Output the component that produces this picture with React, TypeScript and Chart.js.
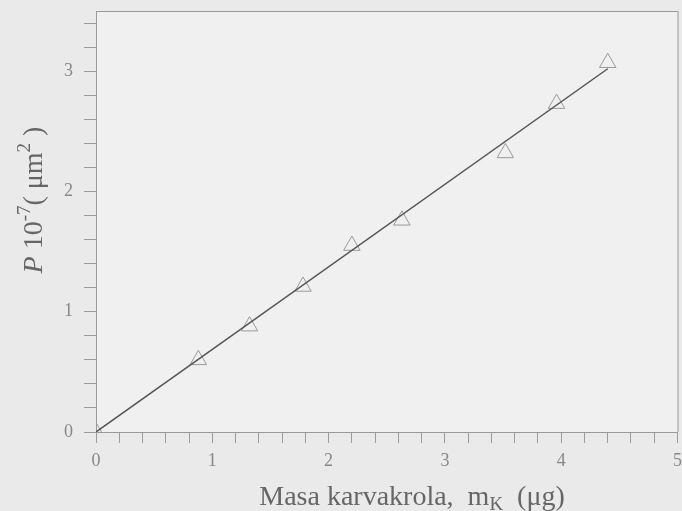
import React, { useEffect, useRef } from "react";
import { Chart, registerables } from "chart.js";

Chart.register(...registerables);

const massValues = [0, 0.88, 1.32, 1.78, 2.2, 2.63, 3.52, 3.96, 4.4];
const areaValues = [0, 0.6, 0.88, 1.21, 1.55, 1.76, 2.32, 2.73, 3.07];
const fitX = [0, 4.4];
const fitY = [0, 3.02];
const xTitleMain = "Masa karvakrola,  m";
const xTitleSub = "K";
const xTitleEnd = "  (μg)";
const yTitleItalic = "P";
const yTitleBase = " 10";
const yTitleSup1 = "-7";
const yTitleMid = "( μm";
const yTitleSup2 = "2";
const yTitleEnd = " )";

const SERIF = "'Liberation Serif', 'DejaVu Serif', serif";

const decorPlugin = {
  id: "decor",
  beforeDraw(chart: any) {
    const { ctx, chartArea, width, height } = chart;
    ctx.save();
    ctx.fillStyle = "#eaeaea";
    ctx.fillRect(0, 0, width, height);
    ctx.fillStyle = "#f0f0f0";
    ctx.fillRect(chartArea.left, chartArea.top, chartArea.right - chartArea.left, chartArea.bottom - chartArea.top);
    ctx.restore();
  },
  afterDraw(chart: any) {
    const { ctx, chartArea } = chart;
    ctx.save();
    ctx.strokeStyle = "#9a9a9a";
    ctx.lineWidth = 1;
    ctx.beginPath();
    ctx.moveTo(chartArea.left, chartArea.top + 0.5);
    ctx.lineTo(chartArea.right + 0.5, chartArea.top + 0.5);
    ctx.lineTo(chartArea.right + 0.5, chartArea.bottom);
    ctx.stroke();

    // x title
    ctx.fillStyle = "#666";
    ctx.textBaseline = "alphabetic";
    const big = `28px ${SERIF}`;
    const small = `19px ${SERIF}`;
    ctx.font = big;
    const w1 = ctx.measureText(xTitleMain).width;
    const w3 = ctx.measureText(xTitleEnd).width;
    ctx.font = small;
    const w2 = ctx.measureText(xTitleSub).width;
    const total = w1 + w2 + w3;
    let x = 412 - total / 2;
    const yb = 505;
    ctx.font = big;
    ctx.textAlign = "left";
    ctx.fillText(xTitleMain, x, yb);
    x += w1;
    ctx.font = small;
    ctx.fillText(xTitleSub, x, yb + 5);
    x += w2;
    ctx.font = big;
    ctx.fillText(xTitleEnd, x, yb);

    // y title rotated
    const yBig = `28px ${SERIF}`;
    const ySmall = `19px ${SERIF}`;
    ctx.save();
    ctx.translate(42, 200);
    ctx.rotate(-Math.PI / 2);
    const parts: [string, string, number][] = [
      [yTitleItalic, `italic 28px ${SERIF}`, 0],
      [yTitleBase, yBig, 0],
      [yTitleSup1, ySmall, -12],
      [yTitleMid, yBig, 0],
      [yTitleSup2, ySmall, -12],
      [yTitleEnd, yBig, 0],
    ];
    let tw = 0;
    for (const p of parts) {
      ctx.font = p[1];
      tw += ctx.measureText(p[0]).width;
    }
    let px = -tw / 2;
    for (const p of parts) {
      ctx.font = p[1];
      ctx.fillText(p[0], px, p[2]);
      px += ctx.measureText(p[0]).width;
    }
    ctx.restore();
    ctx.restore();
  },
};

const zeroPad = (s: any) => {
  s.paddingLeft = 0;
  s.paddingRight = 0;
  s.paddingTop = 0;
  s.paddingBottom = 0;
};

export default function App() {
  const ref = useRef<HTMLCanvasElement | null>(null);
  useEffect(() => {
    if (!ref.current) return;
    const isInt = (v: number) => Math.abs(v - Math.round(v)) < 1e-6;
    const chart = new Chart(ref.current, {
      type: "scatter",
      data: {
        datasets: [
          {
            type: "line",
            data: fitX.map((x, i) => ({ x, y: fitY[i] })),
            borderColor: "#555",
            borderWidth: 1.5,
            pointRadius: 0,
            fill: false,
          } as any,
          {
            data: massValues.map((x, i) => ({ x, y: areaValues[i] })),
            pointStyle: "triangle",
            pointRadius: 9.5,
            borderColor: "#999",
            borderWidth: 1,
            backgroundColor: "rgba(0,0,0,0)",
          },
        ],
      },
      options: {
        responsive: false,
        animation: false,
        layout: { padding: { top: 11, right: 0, left: 0, bottom: 0 } },
        plugins: { legend: { display: false }, tooltip: { enabled: false } },
        scales: {
          x: {
            type: "linear",
            min: 0,
            max: 5,
            afterFit: (s: any) => { s.height = 79; zeroPad(s); },
            border: { color: "#9a9a9a", width: 1 },
            grid: { drawOnChartArea: false, drawTicks: true, tickLength: 11, color: "#9a9a9a" },
            ticks: {
              stepSize: 0.2,
              includeBounds: false,
              autoSkip: false,
              maxRotation: 0,
              padding: 7,
              color: "#888",
              font: { family: SERIF, size: 18 },
              callback: (v: any) => (isInt(Number(v)) ? String(Math.round(Number(v))) : ""),
            },
          },
          y: {
            type: "linear",
            min: 0,
            max: 3.5,
            afterFit: (s: any) => { s.width = 96; zeroPad(s); },
            border: { color: "#9a9a9a", width: 1 },
            grid: { drawOnChartArea: false, drawTicks: true, tickLength: 12, color: "#9a9a9a" },
            ticks: {
              stepSize: 0.2,
              includeBounds: false,
              autoSkip: false,
              padding: 11,
              color: "#888",
              font: { family: SERIF, size: 18 },
              callback: (v: any) => (isInt(Number(v)) ? String(Math.round(Number(v))) : ""),
            },
          },
        },
      },
      plugins: [decorPlugin],
    } as any);
    return () => chart.destroy();
  }, []);
  return (
    <div style={{ position: "absolute", left: 0, top: 0, width: 682, height: 511, overflow: "hidden" }}>
      <canvas ref={ref} width={688} height={511} style={{ display: "block" }} />
    </div>
  );
}
